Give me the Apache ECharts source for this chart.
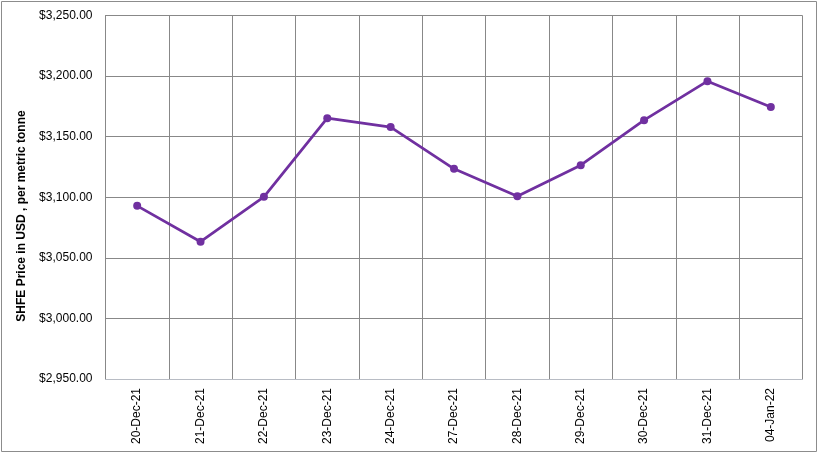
<!DOCTYPE html>
<html><head><meta charset="utf-8">
<script src="https://cdn.jsdelivr.net/npm/echarts@6/dist/echarts.min.js"></script>
<style>html,body{margin:0;padding:0;background:#fff}#c{width:818px;height:453px}</style>
</head><body><div id="c"></div>
<script>
var categories = ['20-Dec-21','21-Dec-21','22-Dec-21','23-Dec-21','24-Dec-21','27-Dec-21','28-Dec-21','29-Dec-21','30-Dec-21','31-Dec-21','04-Jan-22'];
var prices = [3092.9, 3063.3, 3100.4, 3165.3, 3157.9, 3123.5, 3100.9, 3126.5, 3163.6, 3195.8, 3174.4];
var yMin = 2950, yMax = 3250, yStep = 50;
var yTitle = 'SHFE Price in USD , per metric tonne';

var chart = echarts.init(document.getElementById('c'), null, {renderer:'canvas'});
var font = 'Liberation Sans, Arial, sans-serif';
chart.setOption({
  animation: false,
  backgroundColor: '#fff',
  graphic: [
    {type:'rect', shape:{x:1.5,y:1.5,width:815,height:450}, style:{fill:'none', stroke:'#8c8c8c', lineWidth:1}, silent:true},
    {type:'text', x:22, y:216, rotation:Math.PI/2, silent:true,
      style:{text:yTitle, fontFamily:font, fontSize:12, fontWeight:'bold', fill:'#000', align:'center', verticalAlign:'middle'}}
  ],
  grid: {left:105.5, right:15.5, top:15.5, bottom:74, containLabel:false, show:false},
  xAxis: {
    type:'category', data: categories, boundaryGap:true,
    axisLine:{show:true, lineStyle:{color:'#b8bcc4', width:1}},
    axisTick:{show:false},
    splitLine:{show:true, interval:0, lineStyle:{color:'#888888', width:1}},
    axisLabel:{interval:0, rotate:90, margin:9, color:'#000', fontFamily:font, fontSize:12}
  },
  yAxis: {
    type:'value', min:yMin, max:yMax, interval:yStep,
    axisLine:{show:true, lineStyle:{color:'#888888'}},
    axisTick:{show:false},
    splitLine:{show:true, lineStyle:{color:'#888888', width:1}},
    axisLabel:{margin:13, color:'#000', fontFamily:font, fontSize:12,
      formatter:function(v){return '$' + v.toLocaleString('en-US',{minimumFractionDigits:2, maximumFractionDigits:2});}}
  },
  series: [{
    type:'line', data: prices, symbol:'circle', symbolSize:8,
    lineStyle:{color:'#7030A0', width:2.75},
    itemStyle:{color:'#7030A0'}
  }]
});
</script></body></html>
